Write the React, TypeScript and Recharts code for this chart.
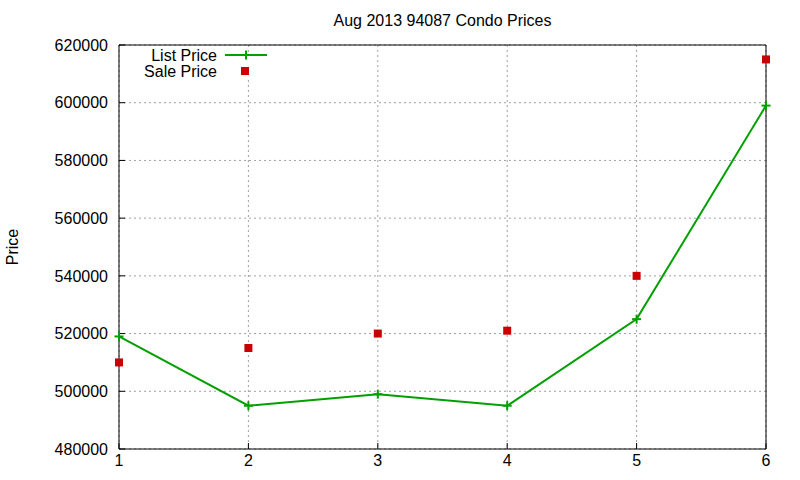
import React from 'react';
import { LineChart, Line, XAxis, YAxis, CartesianGrid, Legend } from 'recharts';

const xValues = [1, 2, 3, 4, 5, 6];
const listPrice = [519000, 495000, 499000, 495000, 525000, 599000];
const salePrice = [510000, 515000, 520000, 521000, 540000, 615000];
const yTicks = [480000, 500000, 520000, 540000, 560000, 580000, 600000, 620000];
const title = 'Aug 2013 94087 Condo Prices';
const yLabel = 'Price';
const seriesNames = ['List Price', 'Sale Price'];

const data = xValues.map((x, i) => ({ x, list: listPrice[i], sale: salePrice[i] }));

const GREEN = '#00a000';
const RED = '#cc0000';
const FONT = '"Liberation Sans", Arial, sans-serif';

const PlusDot = (props: any) => {
  const { cx, cy } = props;
  if (cx == null || cy == null) return null;
  return (
    <g>
      <line x1={cx - 4.5} x2={cx + 4.5} y1={cy} y2={cy} stroke={GREEN} strokeWidth={2} />
      <line x1={cx} x2={cx} y1={cy - 4.5} y2={cy + 4.5} stroke={GREEN} strokeWidth={2} />
    </g>
  );
};

const SquareDot = (props: any) => {
  const { cx, cy } = props;
  if (cx == null || cy == null) return null;
  return <rect x={cx - 4} y={cy - 4} width={8} height={8} fill={RED} />;
};

const LegendContent = () => (
  <svg width={300} height={40} style={{ display: 'block' }}>
    <rect x={130} y={7} width={142} height={28} fill="#fff" />
    <text x={217} y={10} dy="0.35em" textAnchor="end" fontSize={16} fontFamily={FONT} fill="#000">
      {seriesNames[0]}
    </text>
    <line x1={225} x2={267} y1={10} y2={10} stroke={GREEN} strokeWidth={2} />
    <line x1={241.5} x2={250.5} y1={10} y2={10} stroke={GREEN} strokeWidth={2} />
    <line x1={246} x2={246} y1={5.5} y2={14.5} stroke={GREEN} strokeWidth={2} />
    <text x={217} y={26} dy="0.35em" textAnchor="end" fontSize={16} fontFamily={FONT} fill="#000">
      {seriesNames[1]}
    </text>
    <rect x={241} y={22} width={8} height={8} fill={RED} />
  </svg>
);

const YLabel = (props: any) => {
  const vb = props.viewBox || { x: 0, y: 0, width: 0, height: 0 };
  const cx = vb.x + 12;
  const cy = vb.y + vb.height / 2;
  return (
    <text
      x={cx}
      y={cy}
      dy="0.35em"
      textAnchor="middle"
      transform={`rotate(-90, ${cx}, ${cy})`}
      fontSize={16}
      fontFamily={FONT}
      fill="#000"
    >
      {yLabel}
    </text>
  );
};

const TitleLabel = (props: any) => {
  const vb = props.viewBox || { x: 0, y: 0, width: 0, height: 0 };
  return (
    <text
      x={vb.x + vb.width / 2}
      y={vb.y + vb.height - 19}
      textAnchor="middle"
      fontSize={16}
      fontFamily={FONT}
      fill="#000"
    >
      {title}
    </text>
  );
};

const tickStyle = { fill: '#000', fontSize: 16, fontFamily: FONT };

export default function App() {
  return (
    <div style={{ position: 'absolute', left: 0, top: 0, fontFamily: FONT, background: '#fff' }}>
      <LineChart width={800} height={480} data={data} margin={{ top: 44, right: 33, bottom: 0, left: 0 }}>
        <CartesianGrid stroke="#a0a0a0" strokeDasharray="2 3" />
        <XAxis
          dataKey="x"
          type="number"
          domain={[1, 6]}
          ticks={xValues}
          height={31}
          tickSize={-6}
          tickMargin={12}
          tick={tickStyle}
          axisLine={{ stroke: '#000' }}
          tickLine={{ stroke: '#000' }}
        />
        <XAxis
          xAxisId="top"
          orientation="top"
          dataKey="x"
          type="number"
          domain={[1, 6]}
          ticks={xValues}
          height={1}
          tickSize={-6}
          tick={false}
          axisLine={{ stroke: '#000' }}
          tickLine={{ stroke: '#000' }}
          label={<TitleLabel />}
        />
        <YAxis
          type="number"
          domain={[480000, 620000]}
          ticks={yTicks}
          width={119}
          tickSize={-6}
          tickMargin={17}
          tick={tickStyle}
          axisLine={{ stroke: '#000' }}
          tickLine={{ stroke: '#000' }}
          label={<YLabel />}
        />
        <YAxis
          yAxisId="right"
          orientation="right"
          type="number"
          domain={[480000, 620000]}
          ticks={yTicks}
          width={1}
          tickSize={-6}
          tick={false}
          axisLine={{ stroke: '#000' }}
          tickLine={{ stroke: '#000' }}
        />
        <Legend
          layout="vertical"
          align="center"
          verticalAlign="middle"
          content={<LegendContent />}
          wrapperStyle={{ left: 0, top: 45, width: 300, height: 40 }}
        />
        <Line
          xAxisId="top"
          yAxisId="right"
          dataKey="list"
          stroke="none"
          dot={false}
          activeDot={false}
          legendType="none"
          isAnimationActive={false}
        />
        <Line
          dataKey="list"
          name={seriesNames[0]}
          stroke={GREEN}
          strokeWidth={2}
          dot={<PlusDot />}
          activeDot={false}
          isAnimationActive={false}
        />
        <Line
          dataKey="sale"
          name={seriesNames[1]}
          stroke="none"
          dot={<SquareDot />}
          activeDot={false}
          isAnimationActive={false}
        />
      </LineChart>
    </div>
  );
}
